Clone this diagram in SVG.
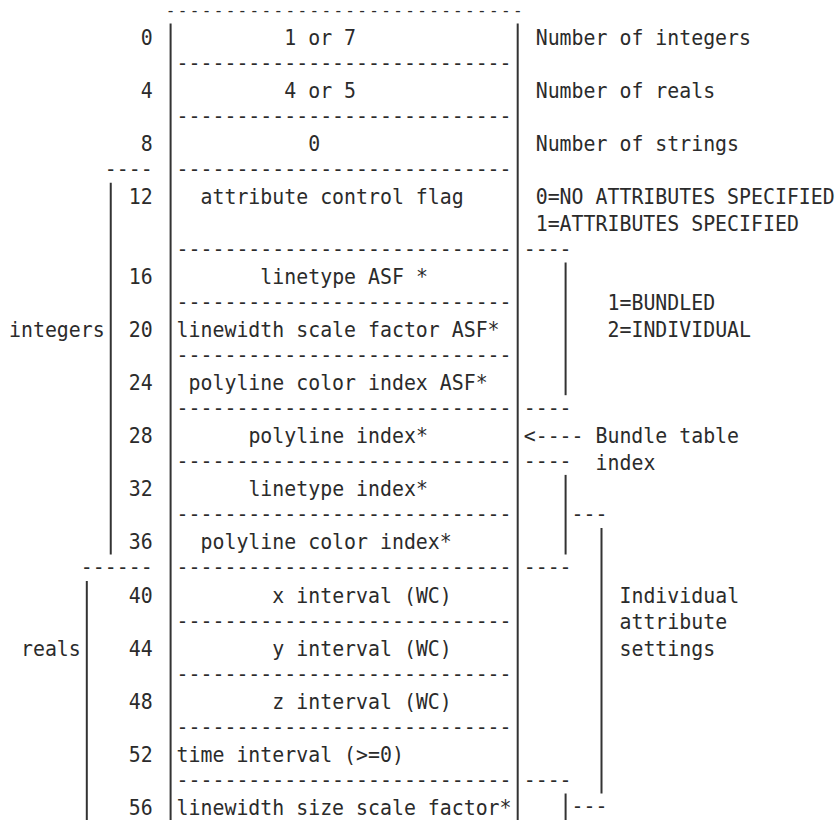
<svg xmlns="http://www.w3.org/2000/svg" width="837" height="834" viewBox="0 0 837 834">
<style>
text{font-family:"DejaVu Sans Mono","Liberation Mono",monospace;font-size:19.88px;fill:#2b2b2b;white-space:pre;transform-box:fill-box;transform-origin:0 79.7%;transform:scaleY(1.07)}
text.top{font-size:16px;letter-spacing:2.34px;transform:none}
.bar{stroke:#333;stroke-width:2;fill:none}
</style>
<rect width="837" height="834" fill="#fff"/>
<g id="connectors">
<line class="bar" x1="170.6" y1="23.5" x2="170.6" y2="820"/>
<line class="bar" x1="517.7" y1="23.5" x2="517.7" y2="820"/>
<line class="bar" x1="110.75" y1="182.8" x2="110.75" y2="554.5"/>
<line class="bar" x1="86.8" y1="581" x2="86.8" y2="820"/>
<line class="bar" x1="565.6" y1="262.5" x2="565.6" y2="395.2"/>
<line class="bar" x1="565.6" y1="474.9" x2="565.6" y2="554.5"/>
<line class="bar" x1="601.5" y1="528" x2="601.5" y2="793.4"/>
<line class="bar" x1="565.6" y1="793.5" x2="565.6" y2="820"/>
</g>
<g id="row-top"><text class="top" x="165.78" y="15.6">------------------------------</text></g>
<g id="row-0">
<text x="140.67" y="45">0</text><text x="284.31" y="45">1 or 7</text><text x="535.68" y="45">Number of integers</text>
<text x="176.58" y="70.05">----------------------------</text>
</g>
<g id="row-4">
<text x="140.67" y="98.1">4</text><text x="284.31" y="98.1">4 or 5</text><text x="535.68" y="98.1">Number of reals</text>
<text x="176.58" y="123.15">----------------------------</text>
</g>
<g id="row-8">
<text x="140.67" y="151.2">8</text><text x="308.25" y="151.2">0</text><text x="535.68" y="151.2">Number of strings</text>
<text x="104.76" y="176.25">----</text><text x="176.58" y="176.25">----------------------------</text>
</g>
<g id="row-12">
<text x="128.7" y="204.3">12</text><text x="200.52" y="204.3">attribute control flag</text>
<text x="535.68" y="204.3">0=NO ATTRIBUTES SPECIFIED</text>
<text x="535.68" y="230.85">1=ATTRIBUTES SPECIFIED</text>
<text x="176.58" y="255.9">----------------------------</text><text x="523.71" y="255.9">----</text>
</g>
<g id="row-16">
<text x="128.7" y="283.95">16</text><text x="260.37" y="283.95">linetype ASF *</text>
<text x="176.58" y="309">----------------------------</text>
</g>
<g id="note-asf"><text x="607.5" y="310.5">1=BUNDLED</text><text x="607.5" y="337.05">2=INDIVIDUAL</text></g>
<g id="label-integers"><text x="9" y="337.05">integers</text></g>
<g id="row-20">
<text x="128.7" y="337.05">20</text><text x="176.58" y="337.05">linewidth scale factor ASF*</text>
<text x="176.58" y="362.1">----------------------------</text>
</g>
<g id="row-24">
<text x="128.7" y="390.15">24</text><text x="188.55" y="390.15">polyline color index ASF*</text>
<text x="176.58" y="415.2">----------------------------</text><text x="523.71" y="415.2">----</text>
</g>
<g id="row-28">
<text x="128.7" y="443.25">28</text><text x="248.4" y="443.25">polyline index*</text>
<text x="523.71" y="443.25">&lt;---- Bundle table</text>
<text x="176.58" y="468.3">----------------------------</text><text x="523.71" y="468.3">----</text>
<text x="595.53" y="469.8">index</text>
</g>
<g id="row-32">
<text x="128.7" y="496.35">32</text><text x="248.4" y="496.35">linetype index*</text>
<text x="176.58" y="521.4">----------------------------</text><text x="571.59" y="521.4">---</text>
</g>
<g id="row-36">
<text x="128.7" y="549.45">36</text><text x="200.52" y="549.45">polyline color index*</text>
<text x="80.82" y="574.5">------</text><text x="176.58" y="574.5">----------------------------</text><text x="523.71" y="574.5">----</text>
</g>
<g id="row-40">
<text x="128.7" y="602.55">40</text><text x="272.34" y="602.55">x interval (WC)</text>
<text x="176.58" y="627.6">----------------------------</text>
</g>
<g id="note-individual"><text x="619.47" y="602.55">Individual</text><text x="619.47" y="629.1">attribute</text><text x="619.47" y="655.65">settings</text></g>
<g id="label-reals"><text x="20.97" y="655.65">reals</text></g>
<g id="row-44">
<text x="128.7" y="655.65">44</text><text x="272.34" y="655.65">y interval (WC)</text>
<text x="176.58" y="680.7">----------------------------</text>
</g>
<g id="row-48">
<text x="128.7" y="708.75">48</text><text x="272.34" y="708.75">z interval (WC)</text>
<text x="176.58" y="733.8">----------------------------</text>
</g>
<g id="row-52">
<text x="128.7" y="761.85">52</text><text x="176.58" y="761.85">time interval (&gt;=0)</text>
<text x="176.58" y="786.9">----------------------------</text><text x="523.71" y="786.9">----</text>
</g>
<g id="row-56">
<text x="128.7" y="814.95">56</text><text x="176.58" y="814.95">linewidth size scale factor*</text>
<text x="571.59" y="813.45">---</text>
</g>
</svg>
